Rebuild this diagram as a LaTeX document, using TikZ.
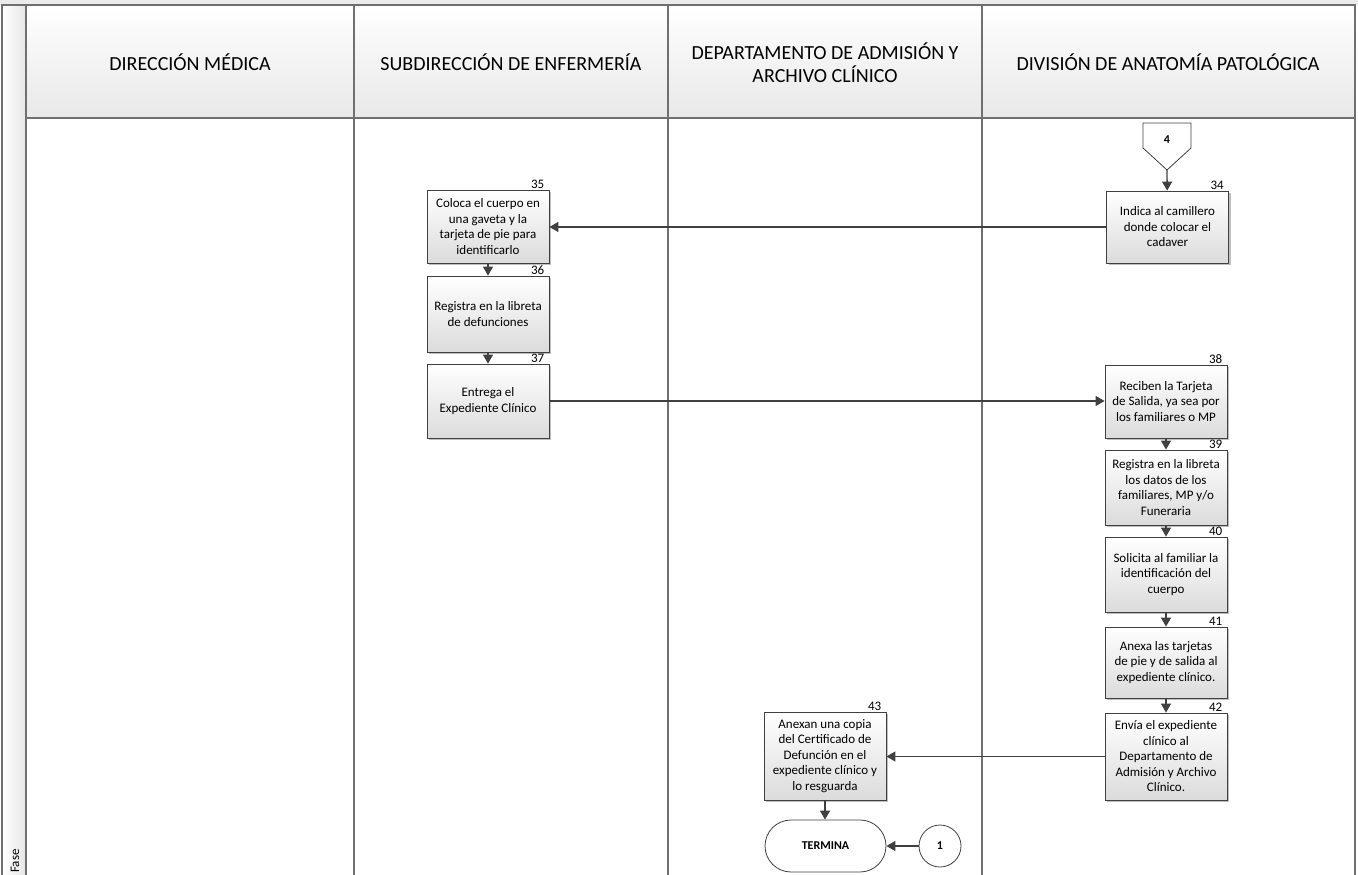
\documentclass[tikz,border=0pt]{standalone}
\usepackage{fontspec}
\setmainfont{Carlito}
\usetikzlibrary{arrows.meta,shadows}
\definecolor{lanegray}{RGB}{112,112,112}
\definecolor{flowgray}{RGB}{64,64,64}

\begin{document}
\begin{tikzpicture}[x=1pt, y=-1pt,
    act/.style={draw=flowgray, line width=0.8pt, minimum width=122pt, inner sep=2pt, align=center, font=\fontsize{13}{15.5}\selectfont, top color=white, bottom color=black!14, drop shadow={shadow xshift=2pt, shadow yshift=-2pt, fill=black!50, opacity=0.5}},
    num/.style={anchor=south east, inner sep=0pt, font=\fontsize{13}{15}\selectfont},
    lanehead/.style={font=\fontsize{20}{23}\selectfont, align=center},
    flow/.style={-{Triangle[length=9pt,width=10pt]}, draw=flowgray, line width=1.3pt}
]
\useasboundingbox (0,0) rectangle (1358,875);

% Lanes
\fill[black!8] (0,0) rectangle (1358,5);
\shade[top color=white, bottom color=black!9] (26,5) rectangle (1355,118);
\shade[left color=white, right color=black!10] (2,5) rectangle (26,875);
\draw[lanegray, line width=2pt] (2,875) -- (2,5) -- (1355,5) -- (1355,875);
\draw[lanegray, line width=2pt] (26,5) -- (26,875);
\draw[lanegray, line width=2pt] (26,118) -- (1355,118);
\foreach \x in {354,668,982}
    \draw[lanegray, line width=1.6pt] (\x,5) -- (\x,875);

\node[lanehead] (dm) at (190,62) {DIRECCIÓN MÉDICA};
\node[lanehead] (se) at (511,62) {SUBDIRECCIÓN DE ENFERMERÍA};
\node[lanehead] (da) at (825,63) {DEPARTAMENTO DE ADMISIÓN Y\\ARCHIVO CLÍNICO};
\node[lanehead] (dp) at (1168,62) {DIVISIÓN DE ANATOMÍA PATOLÓGICA};
\node[rotate=90, font=\fontsize{13}{15}\selectfont] (fase) at (15,861) {Fase};

% Off-page connector
\coordinate (c4tip) at (1167,170);
\draw[flowgray, line width=0.8pt, fill=white] (1143,123) -- (1191,123) -- (1191,148) -- (c4tip) -- (1143,148) -- cycle;
\node[font=\fontsize{12}{14}\selectfont\bfseries] (c4) at (1167,140) {4};

\node[act, minimum height=72pt] (a34) at (1167.5,227) {Indica al camillero\\donde colocar el\\cadaver};
\node[act, minimum height=73pt] (a35) at (488,226.5) {Coloca el cuerpo en\\una gaveta y la\\tarjeta de pie para\\identificarlo};
\node[act, minimum height=76pt] (a36) at (488,314) {Registra en la libreta\\de defunciones};
\node[act, minimum height=74pt] (a37) at (488,401) {Entrega el\\Expediente Clínico};
\node[act, minimum height=73pt] (a38) at (1166,401.5) {Reciben la Tarjeta\\de Salida, ya sea por\\los familiares o MP};
\node[act, minimum height=75pt] (a39) at (1166,487.5) {Registra en la libreta\\los datos de los\\familiares, MP y/o\\Funeraria};
\node[act, minimum height=75pt] (a40) at (1166,574.5) {Solicita al familiar la\\identificación del\\cuerpo};
\node[act, minimum height=71pt] (a41) at (1166,662.5) {Anexa las tarjetas\\de pie y de salida al\\expediente clínico.};
\node[act, minimum height=87pt] (a42) at (1166,756.5) {Envía el expediente\\clínico al\\Departamento de\\Admisión y Archivo\\Clínico.};
\node[act, minimum height=88pt] (a43) at (825,756) {Anexan una copia\\del Certificado de\\Defunción en el\\expediente clínico y\\lo resguarda};

\foreach \n in {34,35,...,43}
    \node[num] (n\n) at ([xshift=-5pt, yshift=1pt]a\n.north east) {\n};

\node[draw=flowgray, line width=0.8pt, fill=white, minimum width=121pt, minimum height=52pt, rounded corners=26pt, font=\fontsize{12}{14}\selectfont\bfseries] (fin) at (825.5,846) {TERMINA};
\node[draw=flowgray, line width=0.8pt, fill=white, circle, minimum size=42pt, font=\fontsize{12}{14}\selectfont\bfseries] (c1) at (940,846) {1};

\draw[flow] (c4tip) -- (a34);
\draw[flow] (a34.west) -- (a34.west -| a35.east);
\draw[flow] (a35) -- (a36);
\draw[flow] (a36) -- (a37);
\draw[flow] (a37.east) -- (a37.east -| a38.west);
\draw[flow] (a38) -- (a39);
\draw[flow] (a39) -- (a40);
\draw[flow] (a40) -- (a41);
\draw[flow] (a41) -- (a42);
\draw[flow] (a42.west) -- (a42.west -| a43.east);
\draw[flow] (a43) -- (a43.south |- fin.north);
\draw[flow] (c1) -- (fin);

\end{tikzpicture}
\end{document}
